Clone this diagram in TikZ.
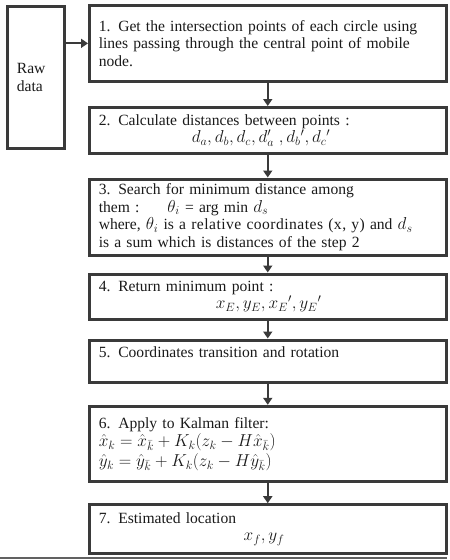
\documentclass[tikz,border=0pt]{standalone}
\usepackage{fontspec}
\setmainfont{Liberation Serif}
\usetikzlibrary{arrows.meta}
\definecolor{edge}{HTML}{3A3A3A}
\definecolor{ink}{HTML}{1A1A1A}
\newcommand{\bm}[1]{{\fontsize{16.8}{17.5}\selectfont$#1$}}
\begin{document}
\begin{tikzpicture}[x=1pt,y=-1pt,
  box/.style={draw=edge, line width=3pt, text=ink, align=left,
    text width=338pt, inner sep=0pt,
    font=\fontsize{15.6}{17.5}\selectfont},
  flow/.style={draw=edge, line width=2pt,
    -{Triangle[width=9pt,length=7pt]}}]
\useasboundingbox (0,0) rectangle (450,560);
\node[box, text width=38pt, minimum width=57.7pt, minimum height=142.7pt] (raw) at (35.85,77.35) {Raw\\data};
\node[box, minimum width=356.5pt, minimum height=75.3pt] (b1) at (267.75,43.35)
 {1. Get the intersection points of each circle using\\
  lines passing through the central point of mobile\\
  node.};
\node[box, minimum width=356.5pt, minimum height=46.2pt] (b2) at (267.75,130.6)
 {2. Calculate distances between points :\\
  \hspace*{93pt}\bm{d_a, d_b, d_c, d'_a\;, d_b{}', d_c{}'}};
\node[box, minimum width=356.5pt, minimum height=76pt] (b3) at (267.75,217)
 {3. Search for minimum distance among\\
  them :\hspace{28pt}\bm{\theta_i} = arg min \bm{d_s}\\
  where, \bm{\theta_i} is a {\addfontfeature{LetterSpace=3}relative coordinates (x, y)} and \bm{d_s}\\
  is a sum which is distances of the step 2};
\node[box, minimum width=356.5pt, minimum height=45.3pt] (b4) at (267.75,296.65)
 {4. Return minimum point :\\
  \hspace*{117pt}\bm{x_E, y_E, x_E{}', y_E{}'}};
\node[box, minimum width=356.5pt, minimum height=42pt] (b5) at (267.75,361)
 {5. Coordinates transition and rotation\\\mbox{}};
\node[box, minimum width=356.5pt, minimum height=75.4pt] (b6) at (267.75,444)
 {6. Apply to Kalman filter:\\[1pt]
  \bm{\hat{x}_k = \hat{x}_{\bar{k}} + K_k(z_k - H\hat{x}_{\bar{k}})}\\[2.5pt]
  \bm{\hat{y}_k = \hat{y}_{\bar{k}} + K_k(z_k - H\hat{y}_{\bar{k}})}};
\node[box, minimum width=356.5pt, minimum height=48.3pt] (b7) at (267.75,528.85)
 {7. Estimated location\\
  \hspace*{145pt}\bm{x_f, y_f}};
\coordinate (bl) at (0,558);
\coordinate (br) at (447,558);
\draw[draw=edge!80, line width=2pt] (bl) -- (br);
\draw[flow] (raw.east |- b1.west) -- (b1.west);
\draw[flow] (b1) -- (b2);
\draw[flow] (b2) -- (b3);
\draw[flow] (b3) -- (b4);
\draw[flow] (b4) -- (b5);
\draw[flow] (b5) -- (b6);
\draw[flow] (b6) -- (b7);
\end{tikzpicture}
\end{document}
